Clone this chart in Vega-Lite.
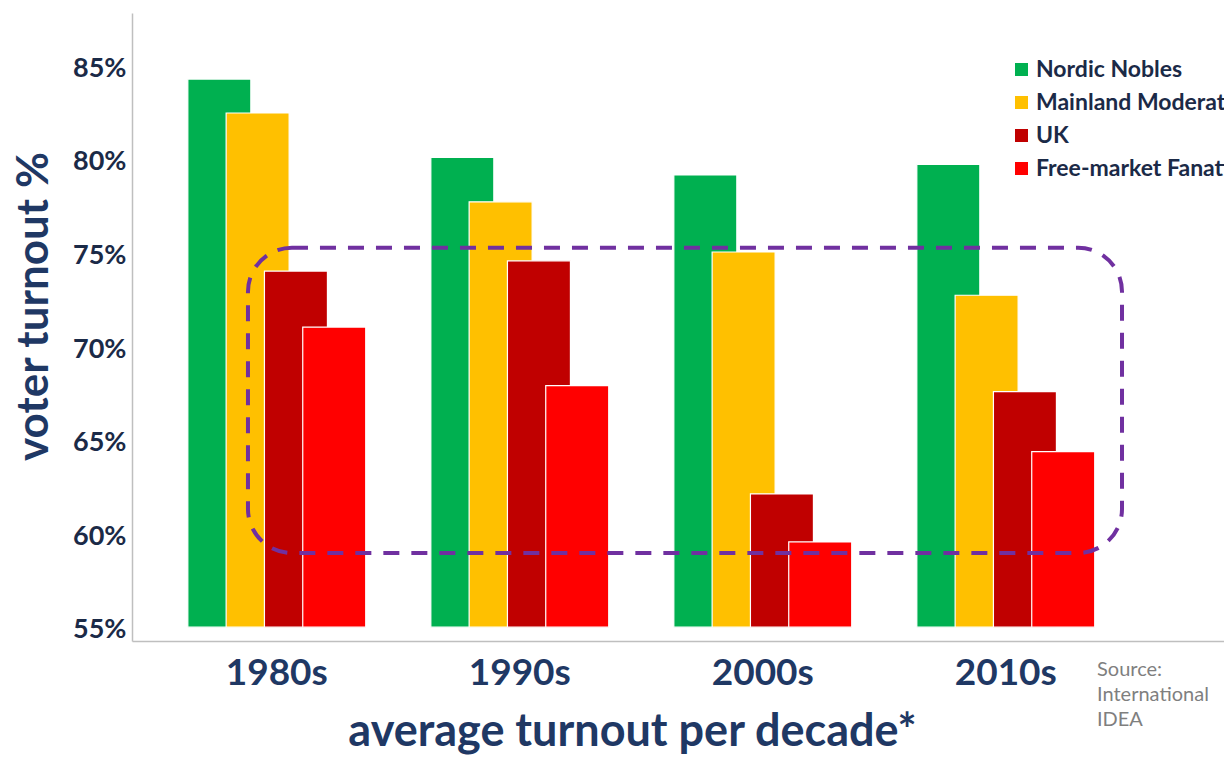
{
  "$schema": "https://vega.github.io/schema/vega-lite/v6.json",
  "autosize": "none",
  "width": 1092,
  "height": 628,
  "padding": {"left": 132, "top": 13, "right": 0, "bottom": 116},
  "background": "white",
  "config": {
    "view": {"stroke": null},
    "font": "Lato"
  },
  "datasets": {
    "turnout": [
      {"decade": "1980s", "group": "Nordic Nobles", "turnout": 0.8441},
      {"decade": "1980s", "group": "Mainland Moderates", "turnout": 0.8260},
      {"decade": "1980s", "group": "UK", "turnout": 0.7416},
      {"decade": "1980s", "group": "Free-market Fanatics", "turnout": 0.7117},
      {"decade": "1990s", "group": "Nordic Nobles", "turnout": 0.8023},
      {"decade": "1990s", "group": "Mainland Moderates", "turnout": 0.7786},
      {"decade": "1990s", "group": "UK", "turnout": 0.7471},
      {"decade": "1990s", "group": "Free-market Fanatics", "turnout": 0.6804},
      {"decade": "2000s", "group": "Nordic Nobles", "turnout": 0.7929},
      {"decade": "2000s", "group": "Mainland Moderates", "turnout": 0.7518},
      {"decade": "2000s", "group": "UK", "turnout": 0.6226},
      {"decade": "2000s", "group": "Free-market Fanatics", "turnout": 0.5970},
      {"decade": "2010s", "group": "Nordic Nobles", "turnout": 0.7986},
      {"decade": "2010s", "group": "Mainland Moderates", "turnout": 0.7287},
      {"decade": "2010s", "group": "UK", "turnout": 0.6772},
      {"decade": "2010s", "group": "Free-market Fanatics", "turnout": 0.6452}
    ],
    "box": [
      {"x0": 0.1062, "x1": 0.9066, "y0": 0.7541, "y1": 0.5911}
    ],
    "source": [
      {"x": 0.8837, "y": 0.5338, "label": "Source:\nInternational\nIDEA"}
    ]
  },
  "layer": [
    {
      "data": {"name": "turnout"},
      "mark": {"type": "bar", "width": 63, "stroke": "white", "strokeWidth": 1.2},
      "encoding": {
        "x": {
          "field": "decade",
          "type": "nominal",
          "sort": ["1980s", "1990s", "2000s", "2010s"],
          "scale": {"paddingInner": 0.3695, "paddingOuter": 0.4317, "align": 0.325},
          "axis": {
            "title": "average turnout per decade*",
            "labelAngle": 0,
            "labelFont": "Lato",
            "labelFontSize": 37,
            "labelFontWeight": "bold",
            "labelColor": "#1F3864",
            "labelPadding": 14,
            "ticks": false,
            "tickSize": 0,
            "domainColor": "#BFBFBF",
            "domainWidth": 1.5,
            "titleFont": "Lato",
            "titleFontSize": 45,
            "titleFontWeight": "bold",
            "titleColor": "#1F3864",
            "titleX": 500,
            "titleY": 104,
            "titleAlign": "center",
            "titleBaseline": "alphabetic"
          }
        },
        "xOffset": {
          "field": "group",
          "type": "nominal",
          "sort": ["Nordic Nobles", "Mainland Moderates", "UK", "Free-market Fanatics"],
          "scale": {"paddingInner": 0, "paddingOuter": 0}
        },
        "y": {
          "field": "turnout",
          "type": "quantitative",
          "scale": {"domain": [0.5441, 0.8794], "nice": false, "zero": false},
          "axis": {
            "title": "voter turnout %",
            "values": [0.55, 0.6, 0.65, 0.7, 0.75, 0.8, 0.85],
            "format": ".0%",
            "grid": false,
            "ticks": false,
            "tickSize": 0,
            "labelPadding": 6,
            "labelFont": "Lato",
            "labelFontSize": 27,
            "labelFontWeight": "bold",
            "labelColor": "#1B2A47",
            "domainColor": "#BFBFBF",
            "domainWidth": 1.5,
            "titleFont": "Lato",
            "titleFontSize": 44,
            "titleFontWeight": "bold",
            "titleColor": "#1F3864",
            "titleAngle": 270,
            "titleX": -85,
            "titleY": 293,
            "titleAlign": "center",
            "titleBaseline": "alphabetic"
          }
        },
        "y2": {"datum": 0.5515},
        "color": {
          "field": "group",
          "type": "nominal",
          "sort": ["Nordic Nobles", "Mainland Moderates", "UK", "Free-market Fanatics"],
          "scale": {
            "domain": ["Nordic Nobles", "Mainland Moderates", "UK", "Free-market Fanatics"],
            "range": ["#00B050", "#FFC000", "#C00000", "#FF0000"]
          },
          "legend": {
            "title": null,
            "orient": "none",
            "legendX": 878,
            "legendY": 45,
            "padding": 0,
            "symbolType": "square",
            "symbolSize": 169,
            "symbolStrokeWidth": 0,
            "labelFont": "Lato",
            "labelFontSize": 23,
            "labelFontWeight": "bold",
            "labelColor": "#1B2A47",
            "labelOffset": 3,
            "rowPadding": 9,
            "labelLimit": 400
          }
        }
      }
    },
    {
      "data": {"name": "box"},
      "mark": {"type": "rect", "filled": false, "stroke": "#7030A0", "strokeWidth": 4, "strokeDash": [16, 12], "cornerRadius": 44},
      "encoding": {
        "x": {"field": "x0", "type": "quantitative", "scale": {"domain": [0, 1], "nice": false, "zero": false}, "axis": null},
        "x2": {"field": "x1"},
        "y": {"field": "y0", "type": "quantitative"},
        "y2": {"field": "y1"}
      }
    },
    {
      "data": {"name": "source"},
      "mark": {"type": "text", "align": "left", "baseline": "top", "lineBreak": "\n", "font": "Lato", "fontSize": 20, "lineHeight": 25, "color": "#7F7F7F", "clip": false},
      "encoding": {
        "x": {"field": "x", "type": "quantitative", "scale": {"domain": [0, 1], "nice": false, "zero": false}, "axis": null},
        "y": {"field": "y", "type": "quantitative"},
        "text": {"field": "label"}
      }
    }
  ],
  "resolve": {"scale": {"x": "independent"}}
}
